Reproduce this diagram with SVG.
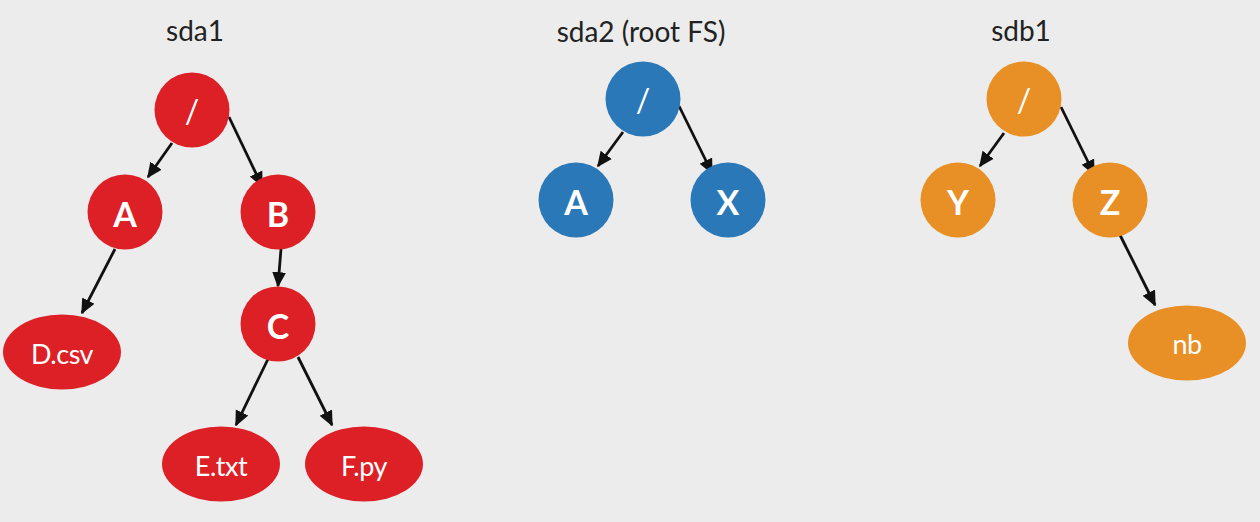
<svg xmlns="http://www.w3.org/2000/svg" width="1260" height="522" viewBox="0 0 1260 522">
<defs>
<marker id="ah" viewBox="0 0 10 10" refX="9" refY="5" markerWidth="5.5" markerHeight="5.5" markerUnits="strokeWidth" orient="auto">
<path d="M0,0.5 L10,5 L0,9.5 z" fill="#111"/>
</marker>
<style>
.title{font-family:Lato,"Open Sans","Liberation Sans",sans-serif;font-size:28px;fill:#222;text-anchor:middle}
.lbl{font-family:Lato,"Open Sans","Liberation Sans",sans-serif;font-weight:bold;font-size:34px;fill:#fff;text-anchor:middle;dominant-baseline:central}
.fn{font-family:Lato,"Open Sans","Liberation Sans",sans-serif;font-size:27px;fill:#fff;text-anchor:middle;dominant-baseline:central;letter-spacing:-0.5px}
.sl{font-family:Lato,"Open Sans","Liberation Sans",sans-serif;font-size:32px;fill:#fff;text-anchor:middle;dominant-baseline:central}
.red{fill:#dc2026}
.blue{fill:#2a78b8}
.orange{fill:#e88f25}
.edge{stroke:#111;stroke-width:2.8;fill:none;marker-end:url(#ah)}
</style>
</defs>
<rect width="1260" height="522" fill="#ebeceb"/>

<text class="title" x="195" y="41">sda1</text>
<text class="title" x="641" y="42">sda2 (root FS)</text>
<text class="title" x="1021" y="41">sdb1</text>

<g id="connectors">
<line class="edge" x1="172" y1="143" x2="148" y2="177"/>
<line class="edge" x1="229" y1="117" x2="262" y2="186"/>
<line class="edge" x1="115" y1="249" x2="82" y2="313"/>
<line class="edge" x1="281" y1="249" x2="278" y2="286"/>
<line class="edge" x1="269" y1="357" x2="236" y2="425"/>
<line class="edge" x1="298" y1="357" x2="332" y2="425"/>
<line class="edge" x1="623" y1="132" x2="598" y2="166"/>
<line class="edge" x1="679" y1="106" x2="712" y2="173"/>
<line class="edge" x1="1004" y1="133" x2="980" y2="166"/>
<line class="edge" x1="1061" y1="107" x2="1094" y2="174"/>
<line class="edge" x1="1120" y1="235" x2="1155" y2="305"/>
</g>

<g id="sda1-root"><circle class="red" cx="192" cy="110" r="37.5"/><text class="sl" x="192" y="110">/</text></g>
<g id="sda1-A"><circle class="red" cx="125" cy="212" r="37.5"/><text class="lbl" x="125" y="213">A</text></g>
<g id="sda1-B"><circle class="red" cx="278" cy="212" r="37.5"/><text class="lbl" x="278" y="213">B</text></g>
<g id="sda1-C"><circle class="red" cx="278" cy="324" r="37.5"/><text class="lbl" x="278" y="325">C</text></g>
<g id="sda1-Dcsv"><ellipse class="red" cx="62" cy="352" rx="59" ry="37.5"/><text class="fn" x="62" y="353">D.csv</text></g>
<g id="sda1-Etxt"><ellipse class="red" cx="221" cy="464" rx="59" ry="37.5"/><text class="fn" x="221" y="465">E.txt</text></g>
<g id="sda1-Fpy"><ellipse class="red" cx="364" cy="464" rx="59" ry="37.5"/><text class="fn" x="364" y="465">F.py</text></g>

<g id="sda2-root"><circle class="blue" cx="643" cy="99" r="37.5"/><text class="sl" x="643" y="99">/</text></g>
<g id="sda2-A"><circle class="blue" cx="576" cy="200" r="37.5"/><text class="lbl" x="576" y="201">A</text></g>
<g id="sda2-X"><circle class="blue" cx="728" cy="200" r="37.5"/><text class="lbl" x="728" y="201">X</text></g>

<g id="sdb1-root"><circle class="orange" cx="1024" cy="99" r="37.5"/><text class="sl" x="1024" y="99">/</text></g>
<g id="sdb1-Y"><circle class="orange" cx="958" cy="200" r="37.5"/><text class="lbl" x="958" y="201">Y</text></g>
<g id="sdb1-Z"><circle class="orange" cx="1110" cy="200" r="37.5"/><text class="lbl" x="1110" y="201">Z</text></g>
<g id="sdb1-nb"><ellipse class="orange" cx="1187" cy="343" rx="59" ry="37.5"/><text class="fn" x="1187" y="343">nb</text></g>
</svg>
